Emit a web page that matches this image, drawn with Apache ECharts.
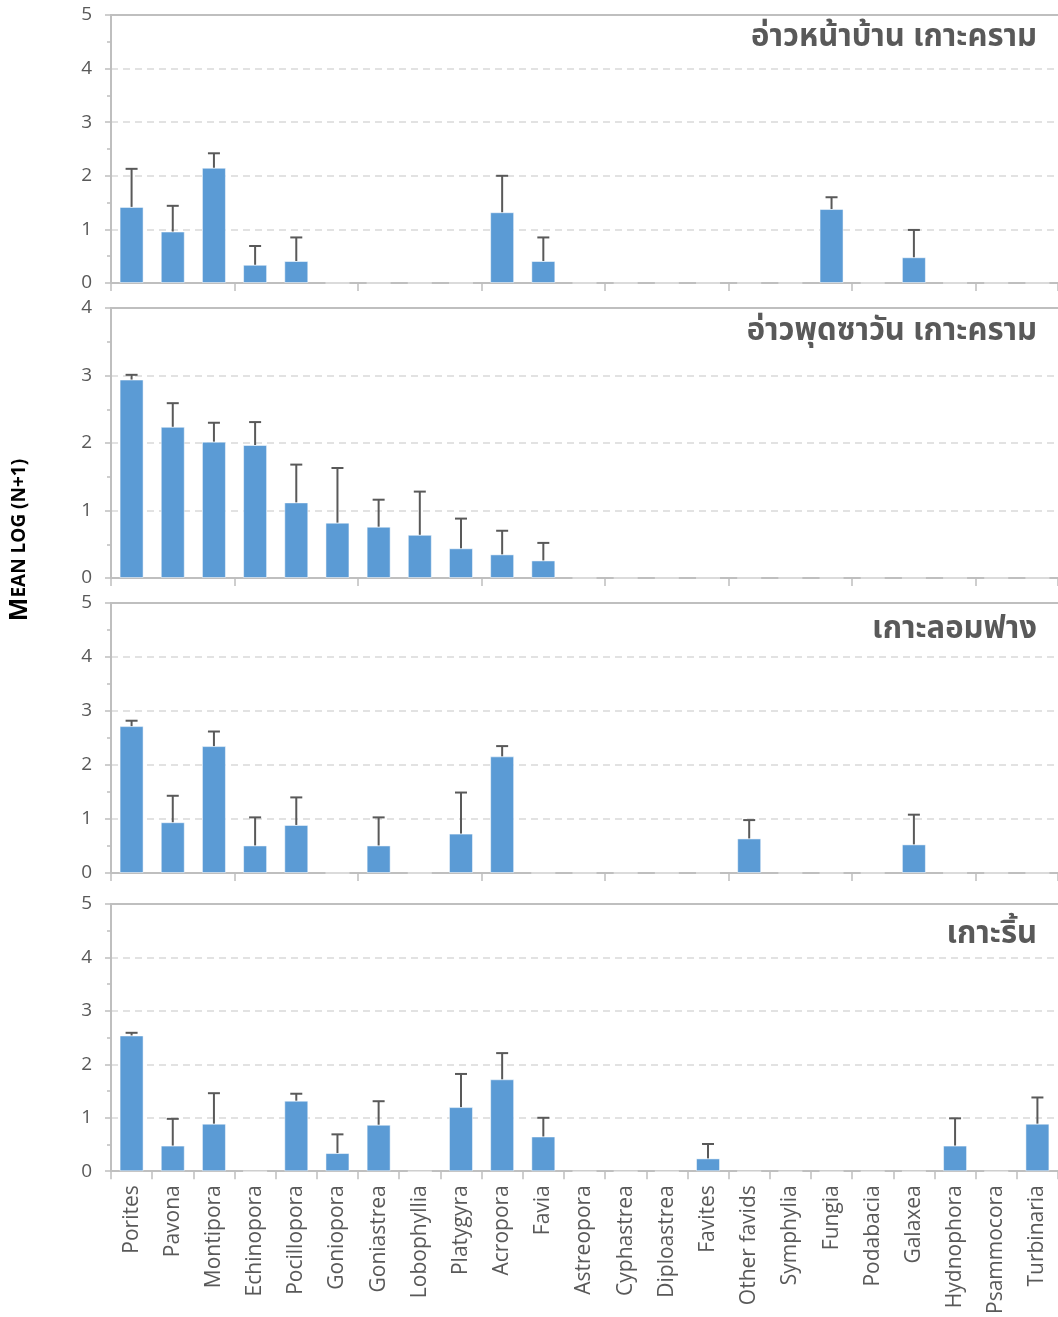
<!DOCTYPE html>
<html>
<head>
<meta charset="utf-8">
<script src="https://cdn.jsdelivr.net/npm/echarts@6/dist/echarts.min.js"></script>
<style>
html,body{margin:0;padding:0;background:#fff;}
#chart{width:1058px;height:1317px;}
</style>
</head>
<body>
<div id="chart"></div>
<script>
const categories = ['Porites','Pavona','Montipora','Echinopora','Pocillopora','Goniopora','Goniastrea','Lobophyllia','Platygyra','Acropora','Favia','Astreopora','Cyphastrea','Diploastrea','Favites','Other favids','Symphylia','Fungia','Podabacia','Galaxea','Hydnophora','Psammocora','Turbinaria'];

const panelTitles = ['อ่าวหน้าบ้าน เกาะคราม','อ่าวพุดซาวัน เกาะคราม','เกาะลอมฟาง','เกาะริ้น'];
const yMaxes = [5, 4, 5, 5];

// Panel 1: อ่าวหน้าบ้าน เกาะคราม
const means1 = [1.42,0.96,2.15,0.34,0.41,0,0,0,0,1.32,0.41,0,0,0,0,0,0,1.38,0,0.48,0,0,0];
const errs1  = [0.71,0.48,0.27,0.35,0.44,0,0,0,0,0.68,0.44,0,0,0,0,0,0,0.22,0,0.51,0,0,0];
// Panel 2: อ่าวพุดซาวัน เกาะคราม
const means2 = [2.94,2.24,2.02,1.97,1.12,0.82,0.76,0.64,0.44,0.35,0.26,0,0,0,0,0,0,0,0,0,0,0,0];
const errs2  = [0.07,0.35,0.28,0.34,0.56,0.81,0.40,0.64,0.44,0.35,0.26,0,0,0,0,0,0,0,0,0,0,0,0];
// Panel 3: เกาะลอมฟาง
const means3 = [2.72,0.94,2.35,0.51,0.89,0,0.51,0,0.73,2.16,0,0,0,0,0,0.64,0,0,0,0.53,0,0,0];
const errs3  = [0.10,0.49,0.27,0.52,0.51,0,0.52,0,0.76,0.19,0,0,0,0,0,0.34,0,0,0,0.55,0,0,0];
// Panel 4: เกาะริ้น
const means4 = [2.54,0.48,0.89,0,1.32,0.34,0.87,0,1.20,1.72,0.65,0,0,0,0.24,0,0,0,0,0,0.48,0,0.89];
const errs4  = [0.05,0.50,0.57,0,0.13,0.35,0.44,0,0.62,0.49,0.35,0,0,0,0.27,0,0,0,0,0,0.51,0,0.49];

const allMeans = [means1, means2, means3, means4];
const allErrs = [errs1, errs2, errs3, errs4];

const gridTops = [15, 308, 603, 904];
const gridHeights = [268, 270, 270, 269];
const titleOffsets = [4, 5, 8, 12];

const axisGray = '#bfbfbf';
const textGray = '#595959';
const fontFam = "'Open Sans','Noto Sans',sans-serif";

const chart = echarts.init(document.getElementById('chart'));

const grids = [], xAxes = [], yAxes = [], series = [], titles = [];
for (let i = 0; i < 4; i++) {
  grids.push({left: 111, right: 0, top: gridTops[i], height: gridHeights[i], containLabel: false});
  xAxes.push({
    type: 'category', gridIndex: i, data: categories, position: 'bottom',
    boundaryGap: true,
    axisLine: {show: true, lineStyle: {color: axisGray, width: 2}},
    axisTick: {show: true, alignWithLabel: false, length: 8, lineStyle: {color: axisGray, width: 1.5}},
    axisLabel: i === 3 ? {show: true, rotate: 90, interval: 0, fontSize: 21, color: textGray, fontFamily: fontFam, margin: 14} : {show: false},
    splitLine: {show: false}
  });
  xAxes.push({
    type: 'category', gridIndex: i, data: categories, position: 'top',
    axisLine: {show: true, lineStyle: {color: axisGray, width: 2}},
    axisTick: {show: false}, axisLabel: {show: false}, splitLine: {show: false}
  });
  yAxes.push({
    type: 'value', gridIndex: i, min: 0, max: yMaxes[i], interval: 1,
    axisLine: {show: true, lineStyle: {color: axisGray, width: 2}},
    axisTick: {show: true, length: 6, lineStyle: {color: axisGray, width: 1.5}},
    minorTick: {show: true, splitNumber: 2, length: 4, lineStyle: {color: axisGray, width: 1.5}},
    axisLabel: {fontSize: 19, color: textGray, fontFamily: fontFam, margin: 19},
    splitLine: {show: true, lineStyle: {color: '#d9d9d9', width: 1.5, type: [7, 5]}}
  });
  series.push({
    type: 'bar', xAxisIndex: 2 * i, yAxisIndex: i,
    data: allMeans[i], barWidth: 24,
    itemStyle: {color: '#5b9bd5', borderColor: 'rgba(255,255,255,0.5)', borderWidth: 1},
    z: 2
  });
  const errData = allMeans[i].map((m, k) => [k, m + allErrs[i][k], m, allErrs[i][k]]);
  series.push({
    type: 'custom', xAxisIndex: 2 * i, yAxisIndex: i, z: 3,
    data: errData,
    renderItem: function (params, api) {
      if (api.value(3) <= 0) return null;
      const base = api.coord([api.value(0), api.value(2)]);
      const top = api.coord([api.value(0), api.value(1)]);
      const st = {stroke: '#595959', lineWidth: 2};
      return {
        type: 'group',
        children: [
          {type: 'line', shape: {x1: top[0], y1: base[1], x2: top[0], y2: top[1]}, style: st},
          {type: 'line', shape: {x1: top[0] - 6, y1: top[1], x2: top[0] + 6, y2: top[1]}, style: st}
        ]
      };
    }
  });
  titles.push({
    text: panelTitles[i], right: 16, top: gridTops[i] + titleOffsets[i],
    textStyle: {fontSize: 31, fontWeight: 'bold', color: textGray, fontFamily: "'Noto Sans Thai','Noto Sans','DejaVu Sans',sans-serif"}
  });
}

chart.setOption({
  animation: false,
  backgroundColor: '#ffffff',
  title: titles,
  grid: grids,
  xAxis: xAxes,
  yAxis: yAxes,
  series: series,
  graphic: [{
    type: 'text', x: 20, y: 540, rotation: Math.PI / 2,
    style: {
      text: '{a|M}{b|EAN LOG (N+1)}',
      rich: {
        a: {fontSize: 25, fontWeight: 'bold', fill: '#000', fontFamily: fontFam},
        b: {fontSize: 19, fontWeight: 'bold', fill: '#000', fontFamily: fontFam}
      },
      align: 'center', verticalAlign: 'middle', fill: '#000'
    }
  }]
});
</script>
</body>
</html>
